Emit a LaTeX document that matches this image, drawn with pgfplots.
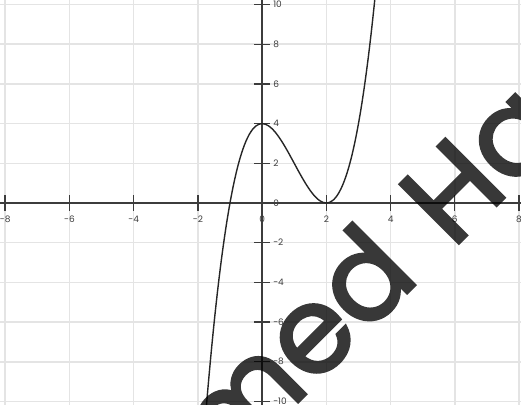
\documentclass[border=0pt]{standalone}
\usepackage{pgfplots}
\pgfplotsset{compat=1.18}
\usepackage{fontspec}
\setmainfont{Poppins}
\newfontfamily\wmfont[FakeBold=2.5]{Poppins}

\definecolor{gridgray}{HTML}{E4E4E4}
\definecolor{axisgray}{HTML}{3C3C3C}

\begin{document}
\begin{tikzpicture}
\begin{axis}[
    scale only axis,
    width=521bp, height=405bp,
    xmin=-8.16, xmax=8.06,
    ymin=-10.18, ymax=10.23,
    axis lines=middle,
    axis line style={-, axisgray, line width=1.3bp},
    hide obscured x ticks=false,
    hide obscured y ticks=false,
    xtick={-8,-6,...,8},
    ytick={-10,-8,...,10},
    xticklabels={-8,-6,-4,-2,0,2,4,6,8},
    yticklabels={-10,-8,-6,-4,-2,0,2,4,6,8,10},
    grid=major,
    major grid style={gridgray, line width=1.6bp},
    tick align=center,
    major tick length=16bp,
    tick style={axisgray, line width=1.3bp},
    ticklabel style={font=\fontsize{9}{9}\selectfont, text=axisgray, inner sep=1bp},
    xticklabel style={anchor=north, yshift=-4bp},
    yticklabel style={anchor=west, xshift=18bp},
    clip=true,
]
% y = x^3 - 3x^2 + 4, values read at steps of 0.1
\addplot[black!85, line width=1.4bp, smooth] coordinates {
    (-1.8,-11.552) (-1.7,-9.583) (-1.6,-7.776) (-1.5,-6.125) (-1.4,-4.624)
    (-1.3,-3.267) (-1.2,-2.048) (-1.1,-0.961) (-1.0,0) (-0.9,0.841)
    (-0.8,1.568) (-0.7,2.187) (-0.6,2.704) (-0.5,3.125) (-0.4,3.456)
    (-0.3,3.703) (-0.2,3.872) (-0.1,3.969) (0,4) (0.1,3.971)
    (0.2,3.888) (0.3,3.757) (0.4,3.584) (0.5,3.375) (0.6,3.136)
    (0.7,2.873) (0.8,2.592) (0.9,2.299) (1.0,2) (1.1,1.701)
    (1.2,1.408) (1.3,1.127) (1.4,0.864) (1.5,0.625) (1.6,0.416)
    (1.7,0.243) (1.8,0.112) (1.9,0.029) (2.0,0) (2.1,0.031)
    (2.2,0.128) (2.3,0.297) (2.4,0.544) (2.5,0.875) (2.6,1.296)
    (2.7,1.813) (2.8,2.432) (2.9,3.159) (3.0,4) (3.1,4.961)
    (3.2,6.048) (3.3,7.267) (3.4,8.624) (3.5,10.125) (3.6,11.776)
};
\coordinate (hstem) at (axis cs:6.23,-1.86);
\coordinate (dstem) at (axis cs:4.70,-4.23);
\end{axis}
% watermark
\begin{scope}[transparency group, opacity=0.78]
\node[rotate=45, anchor=base west, inner sep=0pt, text=black,
      font=\wmfont\fontsize{120}{120}\selectfont]
      at ([shift={(225:14bp)}]hstem) {Ha};
\node[rotate=45, anchor=base east, inner sep=0pt, text=black,
      font=\wmfont\fontsize{120}{120}\selectfont]
      at ([shift={(45:12bp)}]dstem) {med};
\end{scope}
\pgfresetboundingbox
\useasboundingbox (current axis.south west) rectangle (current axis.north east);
\end{tikzpicture}
\end{document}
